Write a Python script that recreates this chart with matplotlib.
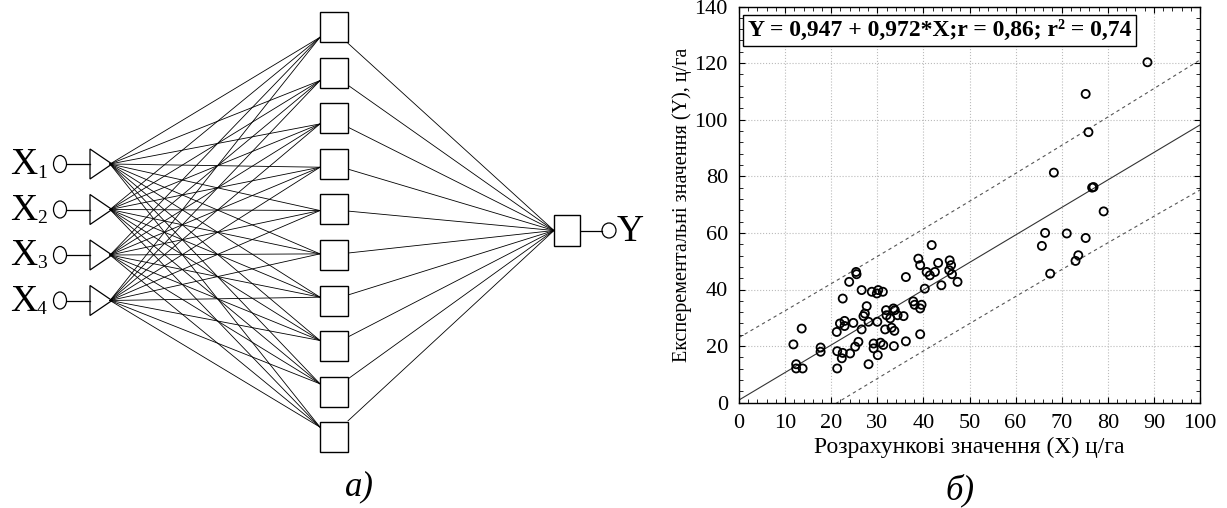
import numpy as np
import matplotlib.pyplot as plt
from matplotlib.patches import Rectangle, Ellipse, Polygon

plt.rcParams['font.family'] = ['Liberation Serif', 'DejaVu Serif']

# network layout: a) 4 inputs -> 10 hidden -> 1 output
input_labels = ['1', '2', '3', '4']
n_hidden = 10
output_label = 'Y'

# scatter data: b) calculated (X) vs experimental (Y), c/ha
calc_x = [11.8, 13.6, 12.4, 12.4, 13.8, 17.7, 17.7,
          21.9, 22.9, 24.8, 21.2, 22.9, 22.5, 23.9, 25.4, 25.5,
          26.6, 26.6, 25.9, 25.2, 21.3, 22.5, 22.3, 24.1, 21.3, 28.1,
          27.7, 27.3, 27.0, 28.1, 30.0,
          28.8, 29.9, 30.2, 31.2,
          31.9, 32.0, 32.8, 33.5, 33.8, 34.4, 35.7,
          31.7, 33.1, 33.7,
          29.2, 30.7, 31.3, 29.2, 30.1, 33.6, 36.2,
          36.2, 37.8, 38.1, 39.6, 39.3, 39.3,
          38.9, 39.3, 40.3, 40.7, 41.4, 42.5, 41.8, 43.2, 43.9,
          45.7, 46.0, 45.6, 46.2, 47.4,
          88.6, 75.2, 75.8, 68.3, 76.6, 76.9, 79.1, 66.4, 65.7, 71.1, 75.2, 73.6, 73.0, 67.5]
exp_y = [20.6, 26.2, 13.6, 12.1, 12.1, 19.5, 18.0,
         28.0, 28.9, 28.2, 25.0, 27.1, 36.8, 42.7, 46.2, 45.4,
         39.8, 25.9, 21.5, 19.8, 18.2, 17.6, 15.7, 17.4, 12.1, 13.6,
         34.1, 31.5, 30.6, 28.6, 28.6,
         39.2, 38.6, 39.8, 39.2,
         32.7, 30.9, 29.8, 33.3, 32.7, 30.9, 30.6,
         25.9, 26.5, 25.4,
         20.9, 21.2, 20.4, 19.2, 16.8, 20.0, 21.7,
         44.4, 35.8, 34.6, 34.6, 33.3, 24.2,
         50.9, 48.6, 40.3, 46.2, 45.0, 46.2, 55.7, 49.4, 41.5,
         50.3, 48.6, 46.8, 45.4, 42.7,
         120.3, 109.1, 95.6, 81.3, 76.0, 76.2, 67.6, 60.0, 55.4, 59.8, 58.2, 52.1, 50.1, 45.6]

intercept = 0.947
slope = 0.972
r_val = '0,86'
r2_val = '0,74'

x_ticks = list(range(0, 101, 10))
y_ticks = list(range(0, 141, 20))

fig = plt.figure(figsize=(12.27, 5.08), dpi=100)

# ---------- a) network diagram (pixel-like coordinates) ----------
ax0 = fig.add_axes([0, 0, 650 / 1227, 1])
ax0.set_xlim(0, 650)
ax0.set_ylim(508, 0)
ax0.axis('off')

in_y = 164 + 45.5 * np.arange(len(input_labels))
hid_y = 27 + 45.6 * np.arange(n_hidden)
mid_y = in_y.mean()
out_y = 230.5
lc = 'black'

for i, yy in enumerate(in_y):
    ax0.text(10, yy + 1, 'X', fontsize=27, va='center', ha='left')
    ax0.text(37, yy + 9, input_labels[i], fontsize=14, va='center', ha='left')
    ax0.add_patch(Ellipse((60, yy), 13, 17, fill=False, lw=0.9, ec=lc))
    ax0.plot([66.5, 90], [yy, yy], color=lc, lw=0.9)
    ax0.add_patch(Polygon([[90, yy - 15], [90, yy + 15], [112, yy]], closed=True,
                          fill=False, lw=0.9, ec=lc))
    for hy in hid_y:
        ty = hy + (mid_y - hy) * 0.05
        ax0.plot([110, 320], [yy, ty], color=lc, lw=0.6)

for hy in hid_y:
    ax0.add_patch(Rectangle((320, hy - 15), 28, 30, fill=True, fc='white', lw=1.0, ec=lc, zorder=3))
    sy = hy + (out_y - hy) * 0.08
    ax0.plot([348, 554], [sy, out_y], color=lc, lw=0.6)

ax0.add_patch(Rectangle((554, out_y - 15.5), 26, 31, fc='white', lw=1.0, ec=lc, zorder=3))
ax0.plot([580, 601.5], [out_y, out_y], color=lc, lw=0.9)
ax0.add_patch(Ellipse((609, out_y), 14, 15, fill=False, lw=0.9, ec=lc))
ax0.text(617, out_y + 1, output_label, fontsize=27, va='center', ha='left')
ax0.text(359, 487, 'a)', fontsize=25, style='italic', va='center', ha='center')

# ---------- b) scatter ----------
ax = fig.add_axes([739 / 1227, 1 - 402.7 / 508, 461 / 1227, (402.7 - 6.5) / 508])
xs = np.array(calc_x)
ys = np.array(exp_y)

xx = np.linspace(0, 100, 200)
fit = intercept + slope * xx
n = len(xs)
resid = ys - (intercept + slope * xs)
s = np.sqrt(np.sum(resid ** 2) / (n - 2))
sxx = np.sum((xs - xs.mean()) ** 2)
half = 1.99 * s * np.sqrt(1 + 1 / n + (xx - xs.mean()) ** 2 / sxx)

ax.plot(xx, fit, color='#333333', lw=0.8)
ax.plot(xx, fit + half, color='#555555', lw=0.8, ls=(0, (3, 3)))
ax.plot(xx, fit - half, color='#555555', lw=0.8, ls=(0, (3, 3)))
ax.scatter(xs, ys, s=34, facecolors='none', edgecolors='black', linewidths=1.3, zorder=4)

ax.set_xlim(0, 100)
ax.set_ylim(0, 140)
ax.set_xticks(x_ticks)
ax.set_yticks(y_ticks)
ax.set_xticks(np.arange(0, 101, 2), minor=True)
ax.set_yticks(np.arange(0, 141, 4), minor=True)
ax.tick_params(which='both', direction='in', top=True, right=True, labelsize=16, pad=8)
ax.tick_params(which='major', length=4)
ax.tick_params(which='minor', length=3)
ax.grid(True, which='major', ls=':', color='#bbbbbb', lw=0.8)
for sp in ax.spines.values():
    sp.set_linewidth(1.0)

ax.set_xlabel('Розрахункові значення (Х) ц/га', fontsize=17, labelpad=3)
ax.set_ylabel('Експерементальні значення (Y), ц/га', fontsize=14.5, labelpad=2)

ax.text(0.02, 0.94, 'Y = 0,947 + 0,972*X;r = ' + r_val + '; r² = ' + r2_val,
        transform=ax.transAxes, fontsize=17, fontweight='bold', va='center', ha='left',
        bbox=dict(boxstyle='square,pad=0.2', fc='white', ec='black', lw=1.0), zorder=6)

fig.text(960 / 1227, 1 - 490 / 508, 'б)', fontsize=25, style='italic', va='center', ha='center')

fig.savefig('out.png', dpi=100)
